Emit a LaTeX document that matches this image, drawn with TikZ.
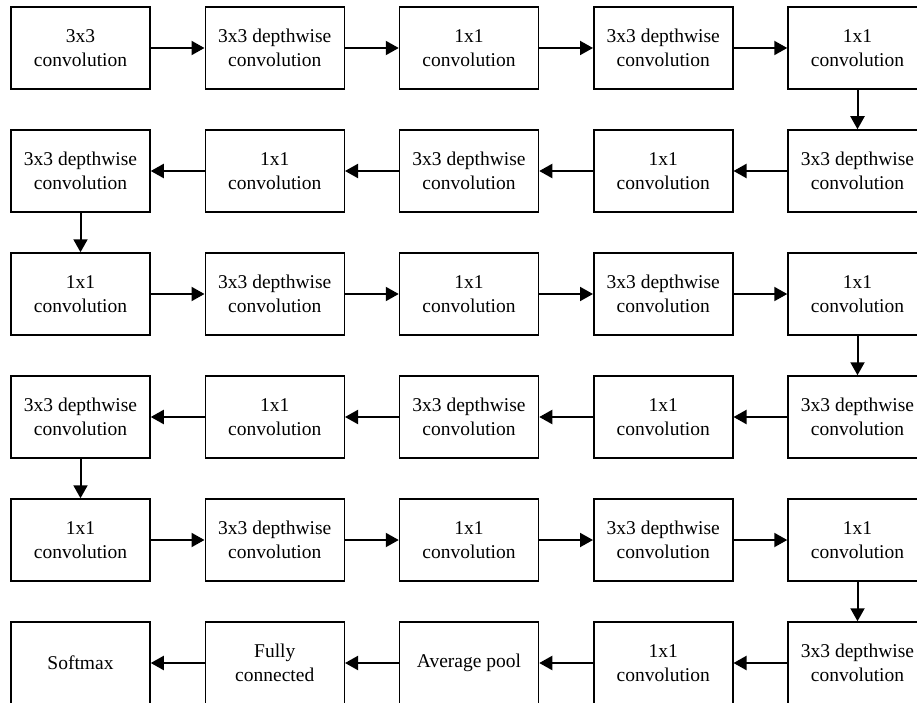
\documentclass[tikz,border=0pt]{standalone}
\usepackage{fontspec}
\setmainfont{Liberation Serif}
\usetikzlibrary{arrows.meta}
\begin{document}
\begin{tikzpicture}[x=1pt,y=-1pt,
  blk/.style={draw,line width=1.5pt,minimum width=139pt,minimum height=82pt,inner sep=0pt,align=center,font=\fontsize{19.5}{23.5}\selectfont},
  conn/.style={line width=2pt,-{Triangle[length=13pt,width=14pt]}}]
\useasboundingbox (0,0) rectangle (917,703);
\def\cA{80.5}\def\cB{274.75}\def\cC{469}\def\cD{663.25}\def\cE{857.5}
\def\rA{48}\def\rB{171}\def\rC{294}\def\rD{417}\def\rE{540}\def\rF{663}
% row 1
\node[blk] (a1) at (\cA,\rA) {3x3\\convolution};
\node[blk] (a2) at (\cB,\rA) {3x3 depthwise\\convolution};
\node[blk] (a3) at (\cC,\rA) {1x1\\convolution};
\node[blk] (a4) at (\cD,\rA) {3x3 depthwise\\convolution};
\node[blk] (a5) at (\cE,\rA) {1x1\\convolution};
% row 2
\node[blk] (b5) at (\cE,\rB) {3x3 depthwise\\convolution};
\node[blk] (b4) at (\cD,\rB) {1x1\\convolution};
\node[blk] (b3) at (\cC,\rB) {3x3 depthwise\\convolution};
\node[blk] (b2) at (\cB,\rB) {1x1\\convolution};
\node[blk] (b1) at (\cA,\rB) {3x3 depthwise\\convolution};
% row 3
\node[blk] (c1) at (\cA,\rC) {1x1\\convolution};
\node[blk] (c2) at (\cB,\rC) {3x3 depthwise\\convolution};
\node[blk] (c3) at (\cC,\rC) {1x1\\convolution};
\node[blk] (c4) at (\cD,\rC) {3x3 depthwise\\convolution};
\node[blk] (c5) at (\cE,\rC) {1x1\\convolution};
% row 4
\node[blk] (d5) at (\cE,\rD) {3x3 depthwise\\convolution};
\node[blk] (d4) at (\cD,\rD) {1x1\\convolution};
\node[blk] (d3) at (\cC,\rD) {3x3 depthwise\\convolution};
\node[blk] (d2) at (\cB,\rD) {1x1\\convolution};
\node[blk] (d1) at (\cA,\rD) {3x3 depthwise\\convolution};
% row 5
\node[blk] (e1) at (\cA,\rE) {1x1\\convolution};
\node[blk] (e2) at (\cB,\rE) {3x3 depthwise\\convolution};
\node[blk] (e3) at (\cC,\rE) {1x1\\convolution};
\node[blk] (e4) at (\cD,\rE) {3x3 depthwise\\convolution};
\node[blk] (e5) at (\cE,\rE) {1x1\\convolution};
% row 6
\node[blk] (f5) at (\cE,\rF) {3x3 depthwise\\convolution};
\node[blk] (f4) at (\cD,\rF) {1x1\\convolution};
\node[blk] (f3) at (\cC,\rF) {Average pool};
\node[blk] (f2) at (\cB,\rF) {Fully\\connected};
\node[blk] (f1) at (\cA,\rF) {Softmax};
% connectors
\draw[conn] (a1) -- (a2); \draw[conn] (a2) -- (a3); \draw[conn] (a3) -- (a4); \draw[conn] (a4) -- (a5);
\draw[conn] (a5) -- (b5);
\draw[conn] (b5) -- (b4); \draw[conn] (b4) -- (b3); \draw[conn] (b3) -- (b2); \draw[conn] (b2) -- (b1);
\draw[conn] (b1) -- (c1);
\draw[conn] (c1) -- (c2); \draw[conn] (c2) -- (c3); \draw[conn] (c3) -- (c4); \draw[conn] (c4) -- (c5);
\draw[conn] (c5) -- (d5);
\draw[conn] (d5) -- (d4); \draw[conn] (d4) -- (d3); \draw[conn] (d3) -- (d2); \draw[conn] (d2) -- (d1);
\draw[conn] (d1) -- (e1);
\draw[conn] (e1) -- (e2); \draw[conn] (e2) -- (e3); \draw[conn] (e3) -- (e4); \draw[conn] (e4) -- (e5);
\draw[conn] (e5) -- (f5);
\draw[conn] (f5) -- (f4); \draw[conn] (f4) -- (f3); \draw[conn] (f3) -- (f2); \draw[conn] (f2) -- (f1);
\end{tikzpicture}
\end{document}
